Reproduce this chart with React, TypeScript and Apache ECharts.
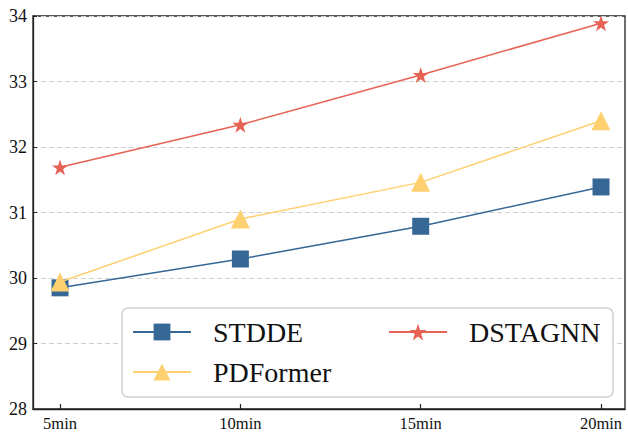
import React, { useEffect, useRef } from "react";
import * as echarts from "echarts";

const categories = ["5min", "10min", "15min", "20min"];
const stdde = [29.85, 30.29, 30.79, 31.39];
const pdformer = [29.94, 30.9, 31.46, 32.4];
const dstagnn = [31.69, 32.34, 33.1, 33.89];
const yTicks = [28, 29, 30, 31, 32, 33, 34];

const STAR =
  "path://M50,0 L61.8,36.2 L100,36.2 L69.1,58.6 L80.9,95.1 L50,72.7 L19.1,95.1 L30.9,58.6 L0,36.2 L38.2,36.2 Z";

const FONT = "'Liberation Serif', 'DejaVu Serif', serif";

export default function App() {
  const ref = useRef<HTMLDivElement>(null);
  useEffect(() => {
    if (!ref.current) return;
    const chart = echarts.init(ref.current, undefined, { renderer: "svg" });
    const toPts = (arr: number[]) => arr.map((v, i) => [i, v]);
    const legendText = {
      fontFamily: FONT,
      fontSize: 28,
      color: "#111",
      lineHeight: 30,
      padding: [0, 0, 0, 17],
    };
    chart.setOption({
      animation: false,
      backgroundColor: "#fff",
      grid: {
        left: 33,
        right: 3,
        top: 16,
        bottom: 22,
        show: true,
        borderColor: "#222",
        borderWidth: 1.3,
        backgroundColor: "transparent",
      },
      xAxis: {
        type: "value",
        min: -0.15,
        max: 3.133,
        axisLine: { show: true, onZero: false, lineStyle: { color: "#222", width: 1.3 } },
        axisTick: {
          show: true,
          inside: true,
          length: 5,
          customValues: [0, 1, 2, 3],
          lineStyle: { color: "#222", width: 1.2 },
        },
        axisLabel: {
          customValues: [0, 1, 2, 3],
          formatter: (v: number) => categories[Math.round(v)] ?? "",
          fontFamily: FONT,
          fontSize: 16.5,
          color: "#111",
          margin: 6,
        },
        splitLine: { show: false },
      },
      yAxis: {
        type: "value",
        min: yTicks[0],
        max: yTicks[yTicks.length - 1],
        interval: 1,
        axisLine: { show: true, onZero: false, lineStyle: { color: "#222", width: 1.3 } },
        axisTick: { show: true, inside: true, length: 4, lineStyle: { color: "#222" } },
        axisLabel: { fontFamily: FONT, fontSize: 18, color: "#111", margin: 6 },
        splitLine: {
          show: true,
          lineStyle: { color: "#d2d2d2", type: [5, 3], width: 1.2 },
        },
      },
      legend: [
        {
          data: ["STDDE", "PDFormer"],
          orient: "vertical",
          left: 132,
          top: 317,
          itemWidth: 58,
          itemHeight: 21,
          itemGap: 10,
          padding: 0,
          textStyle: legendText,
        },
        {
          data: ["DSTAGNN"],
          orient: "vertical",
          left: 388,
          top: 317,
          itemWidth: 58,
          itemHeight: 21,
          padding: 0,
          textStyle: legendText,
        },
      ],
      graphic: [
        {
          type: "rect",
          z: 3,
          shape: { x: 122, y: 308, width: 491, height: 89, r: 6 },
          style: { fill: "rgba(255,255,255,0.9)", stroke: "#d0d0d0", lineWidth: 1.5 },
        },
      ],
      series: [
        {
          name: "STDDE",
          type: "line",
          data: toPts(stdde),
          symbol: "rect",
          symbolSize: 17,
          itemStyle: { color: "#376795" },
          lineStyle: { color: "#376795", width: 1.5 },
          z: 2,
        },
        {
          name: "PDFormer",
          type: "line",
          data: toPts(pdformer),
          symbol: "triangle",
          symbolSize: 19,
          itemStyle: { color: "#FFD06F" },
          lineStyle: { color: "#FFD06F", width: 1.5 },
          z: 3,
        },
        {
          name: "DSTAGNN",
          type: "line",
          data: toPts(dstagnn),
          symbol: STAR,
          symbolSize: 16,
          itemStyle: { color: "#E76254" },
          lineStyle: { color: "#E76254", width: 1.5 },
          z: 2,
        },
      ],
    });
    return () => chart.dispose();
  }, []);
  return <div ref={ref} style={{ width: 628, height: 432, position: "absolute", left: 0, top: 0 }} />;
}
